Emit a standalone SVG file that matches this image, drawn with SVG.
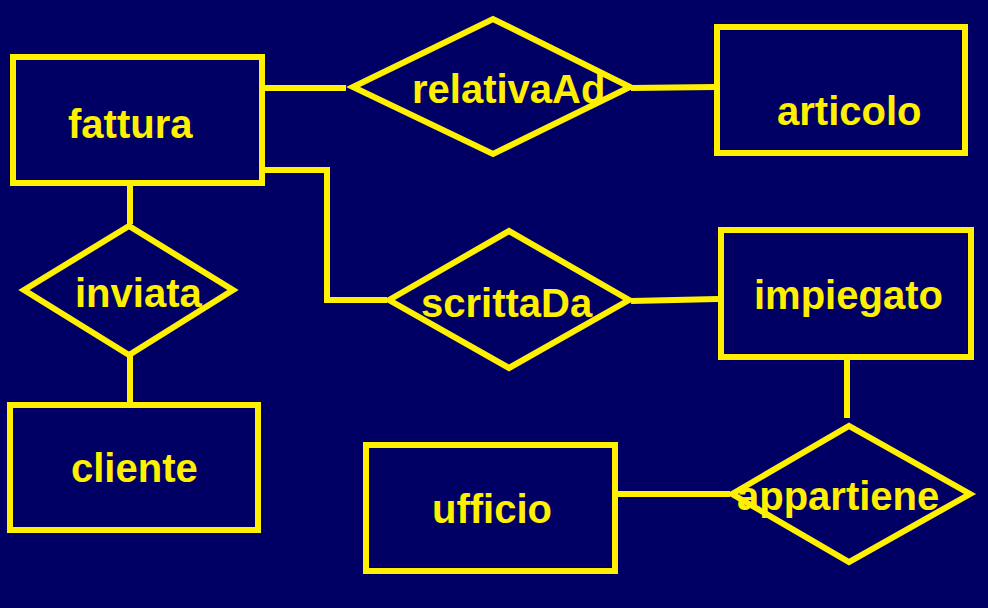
<svg xmlns="http://www.w3.org/2000/svg" width="988" height="608" viewBox="0 0 988 608">
<style>
.shape{fill:none;stroke:#FFF000;stroke-width:6;stroke-linejoin:miter}
.conn{fill:none;stroke:#FFF000;stroke-width:6;stroke-linejoin:miter;stroke-linecap:butt}
.lbl{font-family:"Liberation Sans",Arial,sans-serif;font-weight:bold;font-size:40px;fill:#FFF000}
</style>
<rect x="0" y="0" width="988" height="608" fill="#000064"/>
<g id="connectors">
<polyline class="conn" points="265,88 346,88"/>
<polyline class="conn" points="631,88 714,87"/>
<polyline class="conn" points="265,170 327,170 327,300 387,300"/>
<polyline class="conn" points="631,301 718,299"/>
<polyline class="conn" points="130,186 130,224"/>
<polyline class="conn" points="130,356 130,402"/>
<polyline class="conn" points="847,360 847,418"/>
<polyline class="conn" points="618,494 730,494"/>
</g>
<g id="fattura">
<rect class="shape" x="13" y="57" width="249" height="126"/>
<text class="lbl" x="68" y="138">fattura</text>
</g>
<g id="relativaAd">
<polygon class="shape" points="353,87 493,19 630,87 493,154"/>
<text class="lbl" x="412" y="103">relativaAd</text>
</g>
<g id="articolo">
<rect class="shape" x="717" y="27" width="248" height="126"/>
<text class="lbl" x="777" y="125">articolo</text>
</g>
<g id="inviata">
<polygon class="shape" points="24,290 129,226 233,290 129,355"/>
<text class="lbl" x="75" y="307">inviata</text>
</g>
<g id="cliente">
<rect class="shape" x="10" y="405" width="248" height="125"/>
<text class="lbl" x="71" y="482">cliente</text>
</g>
<g id="scrittaDa">
<polygon class="shape" points="389,300 509,231 629,300 509,368"/>
<text class="lbl" x="421" y="317">scrittaDa</text>
</g>
<g id="impiegato">
<rect class="shape" x="721" y="230" width="250" height="127"/>
<text class="lbl" x="754" y="309">impiegato</text>
</g>
<g id="ufficio">
<rect class="shape" x="366" y="445" width="249" height="126"/>
<text class="lbl" x="432" y="523">ufficio</text>
</g>
<g id="appartiene">
<polygon class="shape" points="732,494 849,426 970,494 849,562"/>
<text class="lbl" x="737" y="510">appartiene</text>
</g>
</svg>
